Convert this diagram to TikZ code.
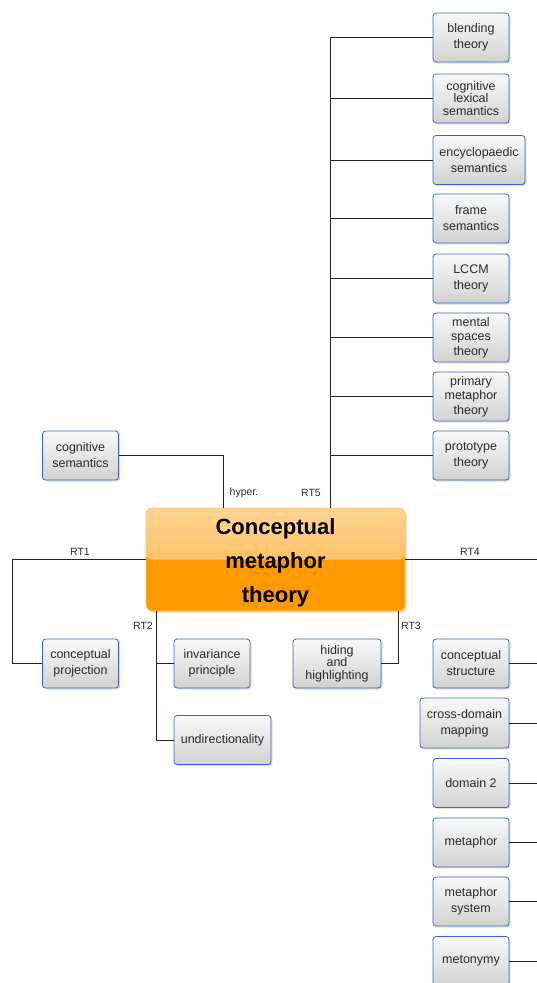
\documentclass[tikz,border=0pt]{standalone}
\usepackage{fontspec}
\setmainfont{Liberation Sans}
\usetikzlibrary{shadows}
\definecolor{boxborder}{HTML}{3F63C4}
\definecolor{boxtop}{HTML}{F9F9F9}
\definecolor{boxbot}{HTML}{D2D2D2}
\definecolor{textgray}{HTML}{2A2A2A}
\definecolor{linegray}{HTML}{202020}
\definecolor{orangemain}{HTML}{FF9900}
\definecolor{orangetop}{HTML}{FFD596}
\definecolor{orangemid}{HTML}{FFB03A}
\definecolor{orangeborder}{HTML}{FFC766}
\begin{document}
\begin{tikzpicture}[x=1pt,y=-1pt,
  topic/.style={draw=boxborder, line width=0.8pt, rounded corners=3pt,
    top color=boxtop, bottom color=boxbot,
    drop shadow={opacity=0.25, shadow xshift=1.5pt, shadow yshift=-1.5pt},
    minimum width=76pt, minimum height=49pt, align=center,
    font=\fontsize{12.5}{16}\selectfont, text=textgray, inner sep=1pt},
  three/.style={font=\fontsize{12.5}{14.5}\selectfont},
  tight/.style={font=\fontsize{12.5}{12.5}\selectfont},
  link/.style={draw=linegray, line width=0.8pt},
  lab/.style={font=\fontsize{10.5}{12}\selectfont, text=textgray, inner sep=0pt}]
\useasboundingbox (0,0) rectangle (537,983);
\clip (0,0) rectangle (537,983);

% coordinates for trunk lines
\coordinate (rt5) at (330,0);
\coordinate (hy) at (223,0);
\coordinate (rt1) at (12,0);
\coordinate (rt2) at (156,0);
\coordinate (rt3) at (398,0);
\coordinate (rt4) at (545,0);

% main node
\node[draw=orangeborder, line width=0.8pt, rounded corners=6pt, fill=orangemain,
  minimum width=259pt, minimum height=103pt,
  drop shadow={opacity=0.3, shadow xshift=1.5pt, shadow yshift=-1.5pt},
  path picture={\shade[top color=orangetop, bottom color=orangemid]
    (path picture bounding box.north west) rectangle (path picture bounding box.east);},
  inner sep=0pt]
  (main) at (275.5,559.5) {};
\node[align=center, font=\fontsize{22}{34}\selectfont\bfseries, text=black, inner sep=0pt]
  (maintext) at (275.5,562.5) {Conceptual\\metaphor\\theory};

% RT5 group
\node[topic] (blending) at (471,37.5) {blending\\theory};
\node[topic,tight] (coglex) at (471,98.5) {cognitive\\lexical\\semantics};
\node[topic,minimum width=92pt] (encyc) at (479,160) {encyclopaedic\\semantics};
\node[topic] (frame) at (471,218.5) {frame\\semantics};
\node[topic] (lccm) at (471,278.5) {LCCM\\theory};
\node[topic,three] (mental) at (471,337.5) {mental\\spaces\\theory};
\node[topic,three] (primary) at (471,396.5) {primary\\metaphor\\theory};
\node[topic] (proto) at (471,455.5) {prototype\\theory};

% hyper
\node[topic] (cogsem) at (80.5,455.5) {cognitive\\semantics};

% RT1
\node[topic] (proj) at (80.5,663.5) {conceptual\\projection};

% RT2
\node[topic] (inv) at (212,663.5) {invariance\\principle};
\node[topic,minimum width=97pt] (undir) at (222.5,740) {undirectionality};

% RT3
\node[topic,tight,minimum width=88pt] (hiding) at (337,663.5) {hiding\\and\\highlighting};

% RT4
\node[topic] (cstruct) at (471,663.5) {conceptual\\structure};
\node[topic,minimum width=89pt,minimum height=50pt] (cdm) at (464.5,723) {cross-domain\\mapping};
\node[topic] (dom2) at (471,783) {domain 2};
\node[topic] (metaphor) at (471,842.5) {metaphor};
\node[topic] (msys) at (471,901.5) {metaphor\\system};
\node[topic] (meto) at (471,961) {metonymy};

% connectors RT5
\foreach \n in {blending,coglex,encyc,frame,lccm,mental,primary,proto}
  \draw[link] (main.north -| rt5) |- (\n.west);
% hyper
\draw[link] (cogsem.east) -| (main.north -| hy);
% RT1
\draw[link] (main.west) -- (main.west -| rt1) |- (proj.west);
% RT2
\draw[link] (main.south -| rt2) |- (inv.west);
\draw[link] (main.south -| rt2) |- (undir.west);
% RT3
\draw[link] (main.south -| rt3) |- (hiding.east);
% RT4
\draw[link] (main.east) -- (main.east -| rt4) -- (rt4 |- meto.east);
\foreach \n in {cstruct,cdm,dom2,metaphor,msys,meto}
  \draw[link] (\n.east) -- (\n.east -| rt4);

% labels
\node[lab] (lhyper) at (244,493) {hyper.};
\node[lab] (lrt5) at (311,493) {RT5};
\node[lab] (lrt1) at (80,552) {RT1};
\node[lab] (lrt2) at (143,626) {RT2};
\node[lab] (lrt3) at (411,626) {RT3};
\node[lab] (lrt4) at (470,552) {RT4};
\end{tikzpicture}
\end{document}
